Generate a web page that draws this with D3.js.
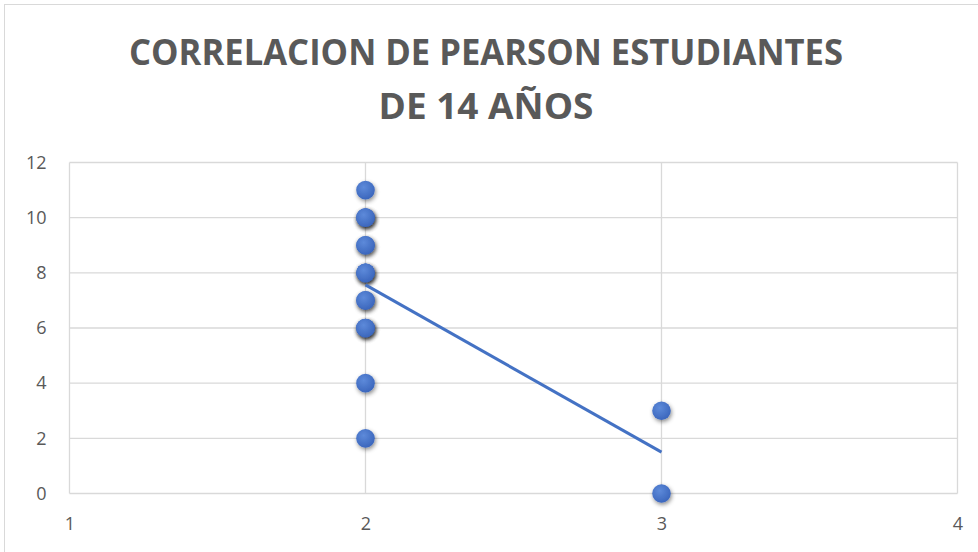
<!DOCTYPE html>
<html>
<head>
<meta charset="utf-8">
<title>Correlacion de Pearson</title>
<script src="https://d3js.org/d3.v7.min.js"></script>
<style>
  body { margin: 0; background: white; font-family: "Open Sans", "Liberation Sans", sans-serif; }
</style>
</head>
<body>
<script>
// datos (x = grupo, y = valor)
var xVals = [2, 2, 2, 2, 2, 2, 2, 2, 2, 2, 2, 2, 2, 2, 2, 2, 3, 3];
var yVals = [11, 10, 10, 10, 9, 9, 8, 8, 8, 7, 7, 6, 6, 6, 4, 2, 3, 0];
var xTicks = [1, 2, 3, 4];
var yTicks = [0, 2, 4, 6, 8, 10, 12];
var titleLines = ["CORRELACION DE PEARSON ESTUDIANTES", "DE 14 AÑOS"];

var width = 978, height = 552;
var blue = "#4472c4", grid = "#d9d9d9", txt = "#595959";

var svg = d3.select("body").append("svg")
  .attr("width", width)
  .attr("height", height);

// marco del grafico
svg.append("rect")
  .attr("x", 4.5).attr("y", 4.5)
  .attr("width", width + 10).attr("height", height + 10)
  .attr("fill", "white")
  .attr("stroke", grid);

var defs = svg.append("defs");
var grad = defs.append("radialGradient").attr("id", "dot")
  .attr("cx", "40%").attr("cy", "35%").attr("r", "65%");
grad.append("stop").attr("offset", "0%").attr("stop-color", "#5d8ada");
grad.append("stop").attr("offset", "100%").attr("stop-color", "#3c67bd");

var f = defs.append("filter").attr("id", "shadow")
  .attr("x", "-80%").attr("y", "-80%").attr("width", "260%").attr("height", "260%");
f.append("feDropShadow").attr("dx", 1).attr("dy", 2)
  .attr("stdDeviation", 2).attr("flood-color", "#000").attr("flood-opacity", 0.45);

// titulo
svg.selectAll(".title")
  .data(titleLines)
  .enter().append("text")
  .attr("x", 486)
  .attr("y", function(d, i) { return 65 + i * 54; })
  .attr("text-anchor", "middle")
  .attr("font-size", 35)
  .attr("font-weight", "bold")
  .attr("fill", txt)
  .attr("textLength", function(d, i) { return i == 0 ? 714 : 215; })
  .attr("lengthAdjust", "spacingAndGlyphs")
  .text(function(d) { return d; });

var x = d3.scaleLinear().domain([1, 4]).range([69.5, 957.5]);
var y = d3.scaleLinear().domain([0, 12]).range([493.5, 162.5]);

var g = svg.append("g");

// rejilla
g.selectAll(".hgrid")
  .data(yTicks)
  .enter().append("line")
  .attr("x1", x(1)).attr("x2", x(4))
  .attr("y1", function(d) { return y(d); })
  .attr("y2", function(d) { return y(d); })
  .attr("stroke", grid).attr("stroke-width", 1.3);

g.selectAll(".vgrid")
  .data(xTicks)
  .enter().append("line")
  .attr("y1", y(0)).attr("y2", y(12))
  .attr("x1", function(d) { return x(d); })
  .attr("x2", function(d) { return x(d); })
  .attr("stroke", grid).attr("stroke-width", 1.3);

// ejes
var yAxis = svg.append("g")
  .attr("transform", "translate(" + x(1) + ",0)")
  .call(d3.axisLeft(y).tickValues(yTicks).tickSize(0).tickPadding(23).tickFormat(d3.format("d")));
var xAxis = svg.append("g")
  .attr("transform", "translate(0," + y(0) + ")")
  .call(d3.axisBottom(x).tickValues(xTicks).tickSize(0).tickPadding(24).tickFormat(d3.format("d")));
[xAxis, yAxis].forEach(function(a) {
  a.select(".domain").remove();
  a.selectAll("text")
    .attr("font-size", 18)
    .attr("font-family", "Open Sans, Liberation Sans, sans-serif")
    .attr("fill", txt);
});

// linea de tendencia (regresion lineal)
var n = xVals.length;
var mx = d3.mean(xVals), my = d3.mean(yVals);
var sxy = 0, sxx = 0;
for (var i = 0; i < n; i++) {
  sxy += (xVals[i] - mx) * (yVals[i] - my);
  sxx += (xVals[i] - mx) * (xVals[i] - mx);
}
var slope = sxy / sxx, icpt = my - slope * mx;
var ext = d3.extent(xVals);

// puntos
var pts = xVals.map(function(d, i) { return { x: d, y: yVals[i] }; });
svg.append("g").selectAll("circle")
  .data(pts)
  .enter().append("circle")
  .attr("cx", function(d) { return x(d.x); })
  .attr("cy", function(d) { return y(d.y); })
  .attr("r", 9.3)
  .attr("fill", "url(#dot)")
  .attr("filter", "url(#shadow)");

svg.append("line")
  .attr("x1", x(ext[0])).attr("y1", y(icpt + slope * ext[0]))
  .attr("x2", x(ext[1])).attr("y2", y(icpt + slope * ext[1]))
  .attr("stroke", blue)
  .attr("stroke-width", 3);
</script>
</body>
</html>
